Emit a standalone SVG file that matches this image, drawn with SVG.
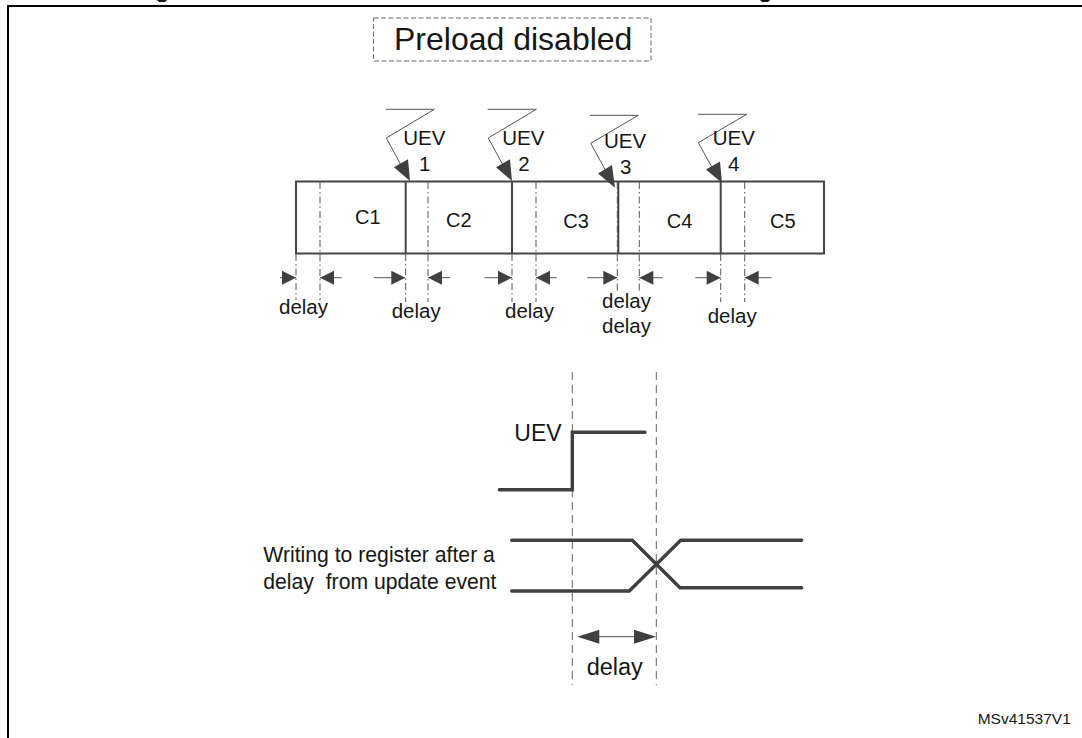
<svg xmlns="http://www.w3.org/2000/svg" width="1082" height="738" viewBox="0 0 1082 738">
<style>
text{font-family:"Liberation Sans",Arial,sans-serif;fill:#161616}
.t{font-size:20.5px}
.c{font-size:20px}
.lbl{font-size:21.200px}
.box{fill:none;stroke:#454545;stroke-width:2}
.div{fill:none;stroke:#454545;stroke-width:2}
.dd{fill:none;stroke:#555;stroke-width:1;stroke-dasharray:7 3 1.5 3}
.dl{fill:none;stroke:#666;stroke-width:1;stroke-dasharray:8 5}
.ln{fill:none;stroke:#555;stroke-width:1}
.ah{fill:#404040;stroke:none}
.w{fill:none;stroke:#404040;stroke-width:3.400;stroke-linecap:round;stroke-linejoin:miter}
</style>
<defs>
<path id="hr" d="M0 0L-14 -7L-14 7Z"/>
<path id="hl" d="M0 0L14 -7L14 7Z"/>
</defs>
<g id="frame"><path d="M8 738V6H1082" fill="none" stroke="#000" stroke-width="2"/>
<path d="M157 0h10l-2 2h-6ZM760 0h10l-2 2h-6Z" fill="#111"/></g>
<g id="title"><rect x="373.500" y="18" width="277.500" height="43" fill="none" stroke="#666" stroke-width="1" stroke-dasharray="5 2.500"/>
<text x="394" y="49.500" font-size="32">Preload disabled</text></g>
<g id="timeline">
<rect class="box" x="296" y="181.500" width="528" height="72"/>
<path class="div" d="M405.700 181.500V253.500M512 181.500V253.500M618.300 181.500V253.500M720.700 181.500V253.500"/>
<text class="c" x="355" y="224">C1</text>
<text class="c" x="446" y="227">C2</text>
<text class="c" x="563.300" y="228">C3</text>
<text class="c" x="666.700" y="228">C4</text>
<text class="c" x="770" y="228">C5</text>
</g>
<g id="connectors">
<g id="delay-guides">
<path class="dd" d="M296 254V300M320 182V300M405.700 254V302M428 182V302M512 254V302M536 182V302M617.300 182V293M639.300 182V293M720.700 254V302M744.700 182V302"/>
</g>
<g id="delay-arrows">
<path class="ln" d="M280 277.700H296M320 277.700H341.700M374 277.700H405.300M428 277.700H450M484.300 277.700H512M536 277.700H556.700M587.300 277.700H617.300M639.300 277.700H662.700M695.300 277.700H720.700M744.700 277.700H771.700"/>
<g class="ah">
<use href="#hr" x="296" y="277.700"/><use href="#hl" x="320" y="277.700"/>
<use href="#hr" x="405.300" y="277.700"/><use href="#hl" x="428" y="277.700"/>
<use href="#hr" x="512" y="277.700"/><use href="#hl" x="536" y="277.700"/>
<use href="#hr" x="617.300" y="277.700"/><use href="#hl" x="639.300" y="277.700"/>
<use href="#hr" x="720.700" y="277.700"/><use href="#hl" x="744.700" y="277.700"/>
</g>
</g>
<g id="uev-arrows">
<path class="ln" d="M385.700 109.300H434.300L386.300 138L401 165M487.700 109.300H536.300L488.300 138L503 165M590 115.300H638.300L590.700 143.300L606 171M698 114.300H746.700L698.300 142.700L713 169"/>
<path class="ah" d="M410 181L394 167.300L408 159.300ZM512 181L496 167.300L510 159.300ZM615 187.700L598 173.500L612 165ZM722 183L706 169.500L720 161.500Z"/>
</g>
<g id="delay-measure">
<path class="dl" d="M572.300 372V685M656.300 372V685"/>
<path class="ln" d="M590 636.700H645"/>
<path class="ah" d="M577.300 636.700L599.300 629.700V643.700ZM656 636.700L634 629.700V643.700Z"/>
</g>
</g>
<g id="uev-labels">
<text class="t" x="403.300" y="145">UEV</text><text class="t" x="419" y="171">1</text>
<text class="t" x="502.300" y="145">UEV</text><text class="t" x="518.300" y="171">2</text>
<text class="t" x="604" y="148.300">UEV</text><text class="t" x="620" y="174">3</text>
<text class="t" x="712.700" y="145">UEV</text><text class="t" x="728" y="171">4</text>
</g>
<g id="delay-labels">
<text class="t" x="279" y="314">delay</text>
<text class="t" x="391.700" y="317.700">delay</text>
<text class="t" x="505" y="317.700">delay</text>
<text class="t" x="602" y="308.300">delay</text>
<text class="t" x="602" y="332.700">delay</text>
<text class="t" x="707.700" y="322.700">delay</text>
</g>
<g id="uev-waveform">
<path class="w" d="M499.300 489.700H572.300V432.300H645"/>
<text x="514.300" y="440.700" font-size="23">UEV</text>
</g>
<g id="register-waveform">
<path class="w" d="M511.700 540.300H632.300L680 587.700H801.700"/>
<path class="w" d="M511.700 591H629.300L680.700 540.300H801.700"/>
<text class="lbl" x="263.300" y="562.300">Writing to register after a</text>
<text class="lbl" x="263.300" y="589" xml:space="preserve">delay  from update event</text>
</g>
<g id="delay-caption"><text x="586.700" y="675" font-size="23.500">delay</text></g>
<g id="code"><text x="977.700" y="724.300" font-size="15.500">MSv41537V1</text></g>
</svg>
